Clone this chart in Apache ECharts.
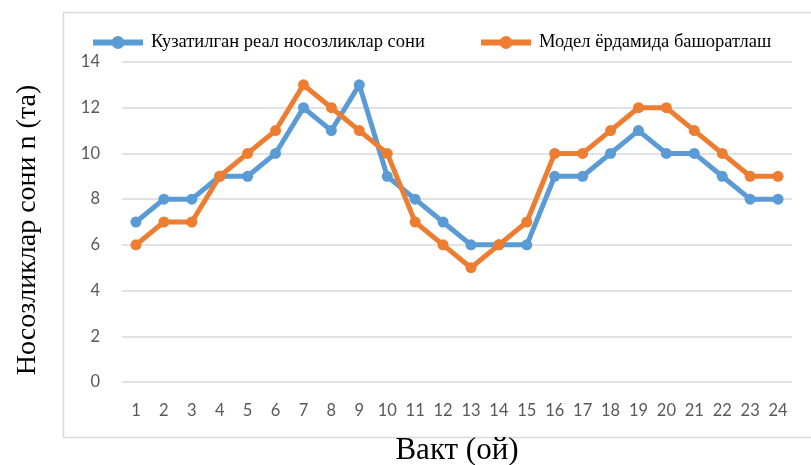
<!DOCTYPE html>
<html>
<head>
<meta charset="utf-8">
<script src="https://cdn.jsdelivr.net/npm/echarts@6/dist/echarts.min.js"></script>
<style>html,body{margin:0;padding:0;background:#fff;}#c{width:811px;height:465px;}</style>
</head>
<body>
<div id="c"></div>
<script>
const categories = ['1','2','3','4','5','6','7','8','9','10','11','12','13','14','15','16','17','18','19','20','21','22','23','24'];
const observed = [7,8,8,9,9,10,12,11,13,9,8,7,6,6,6,9,9,10,11,10,10,9,8,8];
const model = [6,7,7,9,10,11,13,12,11,10,7,6,5,6,7,10,10,11,12,12,11,10,9,9];
const seriesNames = ['Кузатилган реал носозликлар сони', 'Модел ёрдамида башоратлаш'];

const chart = echarts.init(document.getElementById('c'));
const legendText = {fontFamily:'Liberation Serif', fontSize:18.5, color:'#000', padding:[0,0,0,3]};
chart.setOption({
  animation:false,
  backgroundColor:'#fff',
  graphic:[{type:'rect', shape:{x:63.5,y:12.5,width:760,height:425}, style:{fill:'none', stroke:'#d9d9d9', lineWidth:1.5}, z:-1}],
  legend:[
    {data:[seriesNames[0]], left:85, top:28, itemWidth:50, itemHeight:16, lineStyle:{width:6}, textStyle:legendText},
    {data:[seriesNames[1]], left:473, top:28, itemWidth:50, itemHeight:16, lineStyle:{width:6}, textStyle:legendText}
  ],
  grid:{left:122, right:19, top:62, bottom:83, outerBoundsMode:'none', containLabel:false},
  xAxis:{
    type:'category', data:categories, boundaryGap:true,
    name:'Вакт (ой)', nameLocation:'middle', nameGap:53,
    nameTextStyle:{fontFamily:'Liberation Serif', fontSize:31, color:'#000'},
    axisLine:{show:false}, axisTick:{show:false},
    axisLabel:{fontFamily:'Lato', fontSize:16.5, color:'#595959', margin:20, interval:0}
  },
  yAxis:{
    type:'value', min:0, max:14, interval:2,
    name:'Носозликлар сони n (та)', nameLocation:'middle', nameGap:80,
    nameTextStyle:{fontFamily:'Liberation Serif', fontSize:28, color:'#000', padding:[0,16,0,0]},
    axisLine:{show:false}, axisTick:{show:false},
    axisLabel:{fontFamily:'Lato', fontSize:16.5, color:'#595959', margin:22},
    splitLine:{lineStyle:{color:'#d9d9d9', width:1.5}}
  },
  series:[
    {name:seriesNames[0], type:'line', data:observed, symbol:'circle', symbolSize:11,
     lineStyle:{color:'#5B9BD5', width:5}, itemStyle:{color:'#5B9BD5'}, z:2},
    {name:seriesNames[1], type:'line', data:model, symbol:'circle', symbolSize:11,
     lineStyle:{color:'#ED7D31', width:5}, itemStyle:{color:'#ED7D31'}, z:3}
  ]
});
</script>
</body>
</html>
